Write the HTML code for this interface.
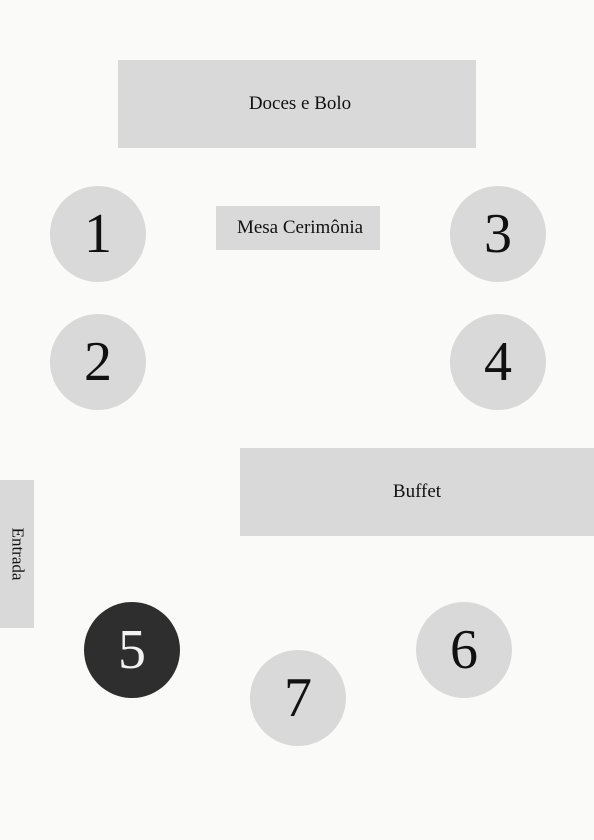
<!DOCTYPE html>
<html><head><meta charset="utf-8"><style>
body{margin:0;width:594px;height:840px;background:#fafaf9;position:relative;overflow:hidden;font-family:"Liberation Serif",serif;color:#111}
.r{position:absolute;background:#d9d9d9;display:flex;align-items:center;justify-content:center;font-size:19px}
.c{position:absolute;width:96px;height:96px;border-radius:50%;background:#d9d9d9;display:flex;align-items:center;justify-content:center;font-size:56px;line-height:1}
</style></head><body>
<div class="r" style="left:118px;top:60px;width:358px;height:88px;padding-left:6px;box-sizing:border-box">Doces e Bolo</div>
<div class="r" style="left:216px;top:206px;width:164px;height:44px;padding-left:4px;box-sizing:border-box">Mesa Cerimônia</div>
<div class="r" style="left:240px;top:448px;width:354px;height:88px">Buffet</div>
<div class="r" style="left:0;top:480px;width:34px;height:148px"><span style="transform:rotate(90deg);display:inline-block;white-space:nowrap;font-size:17px">Entrada</span></div>
<div class="c" style="left:50px;top:186px">1</div>
<div class="c" style="left:450px;top:186px">3</div>
<div class="c" style="left:50px;top:314px">2</div>
<div class="c" style="left:450px;top:314px">4</div>
<div class="c" style="left:84px;top:602px;background:#2e2e2e;color:#f2f2f2">5</div>
<div class="c" style="left:416px;top:602px">6</div>
<div class="c" style="left:250px;top:650px">7</div>
</body></html>
